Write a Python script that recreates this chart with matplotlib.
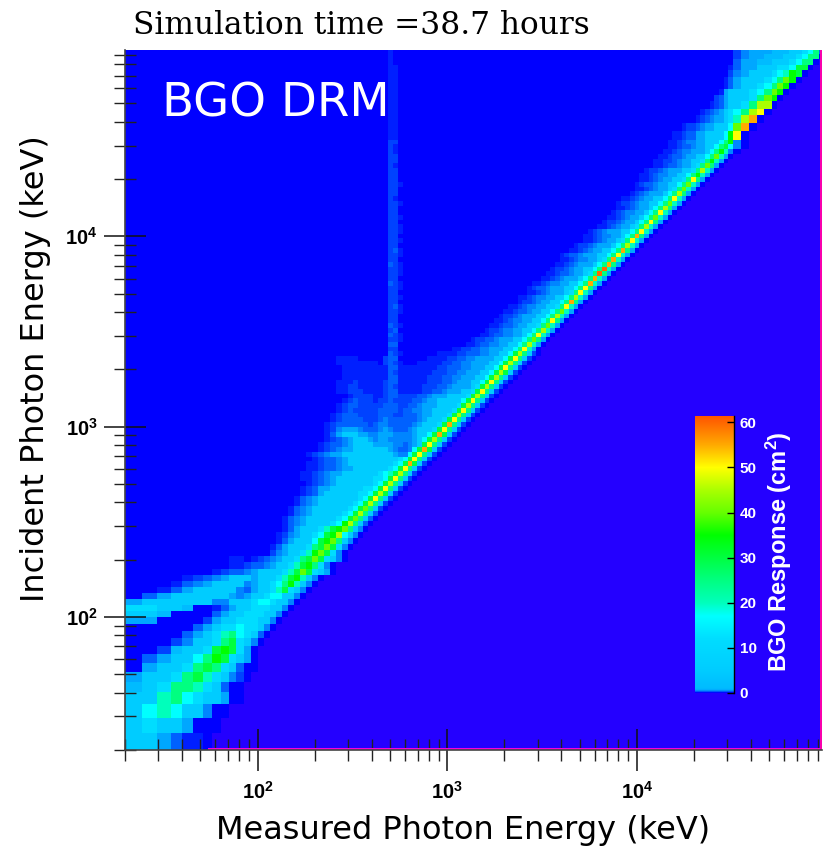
#!/usr/bin/python

#------------------------------------------------------------------------------
# BGO detector response matrix: response per incident / measured energy bin
#------------------------------------------------------------------------------

import matplotlib as mpl
mpl.use('Agg')
from matplotlib import pyplot as plt
from matplotlib.colors import LinearSegmentedColormap
import numpy as np

##############################
# Data
##############################

titleText = "Simulation time =38.7 hours"
panelText = "BGO DRM"
xLabelText = "Measured Photon Energy (keV)"
yLabelText = "Incident Photon Energy (keV)"
barLabelText = r"BGO Response (cm$\mathbf{^{2}}$)"

majorTicks = [100, 1000, 10000]
majorLabels = [r"$\mathbf{10^{2}}$", r"$\mathbf{10^{3}}$", r"$\mathbf{10^{4}}$"]
barTicks = [0, 10, 20, 30, 40, 50, 60]

# energy bins (keV), same for both axes
lowEdges = [20, 24.7, 29.6, 34.8, 40.2, 45.4, 51.3, 57.2, 63.8, 70.3, 77.4, 84.4, 91.8]
topEdges = [32200, 35600, 39200, 43200, 46800, 51400, 55000, 59100, 63700, 68700,
            74500, 79600, 85100, 91200, 95300]

# response levels used in the rows below (cm^2)
levelChars = "abcdefghijklmnopqr"
levelValues = [0.1, 0.2, 0.3, 0.45, 0.6, 1, 5, 12, 17, 20, 25, 30, 35, 40, 45, 50, 55, 60]

# one string per incident bin, bottom row first. The cell after | is the one on
# the diagonal, '.' is an empty bin, nothing right of the string is drawn
rowCells = [
    "|ggecaa.",
    "g|hgge...",
    "gi|jiggd..",
    "ggj|kihgge..",
    "fghk|kjhgc..",
    "egghk|ljhgdb.",
    ".egghk|lkhgc..",
    ".ceggik|mlhge.",
    "..bfgghl|mlhe.",
    "...bdgghk|lhgd.",
    "....ceghjk|ihgc.",       # 10
    ".....ceghhi|hhgd.",
    "ee....begghh|hggd.",
    "ggf....cegghh|hggd.",
    "hhggf..acegghh|hggd.",
    "eggggggddggghii|hggd.",
    ".ceggggggedegghi|iggd.",
    "..acegggggdcegghj|lhgd.",
    "...acdeggggdegghik|mjgd.",
    "....abcdegggeggghjl|mjgd.",
    ".......abccdegggghjl|nlhge.",      # 20
    ".........aabccdegghjl|mkhd.",
    ".........aa.abcdegghkl|nlhgd.",
    "bdegghjm|nlhd.",
    "aceggghkl|nlhd.",
    "acegggilm|nkgd.",
    "abdegghilm|oigd.",
    "aceggghjlm|nkgd.",
    "acdegggghim|okgc.",
    "acdeggggghil|nkgc.",
    "acdeggggghil|okgc.",      # 30
    "acdegggggghil|nkgb.",
    "acdegggggghil|okgb.",
    "acdeggggggghil|pkgb.",
    "abcegggggghhil|olgb.",
    "abceegggggghhil|pkgb.",
    "abcdeggggggghil|okgb.",
    "aabcdeggggggghhil|pkgb.",
    "aabcdeeggggggghijl|okgb.",
    "aabccdeeggggggghil|pkgb.",
    "aabccdeggggggggghil|qlgb.",      # 40
    "abccdegggggggggghil|pkgb.",
    "abcdeeggggggggggeddil|pkgb.",
    "abcdeegggggggedccdil|qlgb.",
    "abccdeggggeeeeddcdegl|pkgb.",
    "abcdegggedeedddddegil|okgb.",
    "acegggeeddeeeddddeggil|qlgb.",
    "abdeeedcccdedcccdeggghl|pkgb.",
    "abccccccbcddcccccdeggghl|qkgb.",
    "abccccbbbcdcbccccdeggghl|pkgb.",
    "abcccbbbbccbbbcccdeeggghl|okgb.",      # 50
    "abcbbbbbccbbbccddeegggghl|pkgb.",
    "abccbbbbbcbbbbccdeeegggghl|okgb.",
    "abcbbbabbbbbbbccdeegggggil|pkgb.",
    "abbbbaabbbbbbbccdeeegggghl|okgb.",
    "aabbbaaaabbaaaaaabbccdeeegghl|pkgb.",
    "aabbaaaaabbaaaaaabbbccdeeeeghl|okgb.",
    "aaabaaaaabbaaaaaaabbbccdeeeggil|pkgb.",
    "aaaaaaaaabbaaaaaabbbccddeeeggil|okgb.",
    "aaaaaaaaabbaaaaaaabbbccddeeeggil|olgb.",
    "aaaaaaaaabbaaaaaaaabbcccddeeeggil|pkgb.",      # 60
    "aaaaaaaa.bb.....aaaaabbccddeeeeggil|okgb.",
    "aaaa.....bb.......aaaabbccddeeeeggil|pkgb.",
    "aaaabbcccddeeggil|okgb.",
    "aabbccddeeeggik|pje.",
    "aabccddeeggik|oje.",
    "abbccdeeeggik|nke.",
    "aabccddeegik|pje.",
    "abbcddeeggik|oje.",
    "aabccdeegghk|nje.",
    "aabcddeeggik|pke.",      # 70
    "abbcdeeeggik|oje.",
    "aabccdeeggik|nje.",
    "aabcddeegghk|pje.",
    "abbcdeeggik|qke.",
    "aabcddeeggik|oje.",
    "aabcdeeeghk|pje.",
    "abccdeeeggik|pke.",
    "aabcddeeggik|qje.",
    "aabcdeeegik|qje.",
    "aabccdeeghk|rke.",      # 80
    "abbcdeeggik|rje.",
    "aabcdeeegik|qke.",
    "aabcddeeghk|qje.",
    "abccdeeeggik|pje.",
    "aabcdeeggik|qke.",
    "abbcdeeegik|oje.",
    "aabcdeeghk|pje.",
    "aabcddeegik|qke.",
    "abcdeeeggik|pje.",
    "aabcdeeghk|oje.",      # 90
    "abbcdeegik|pke.",
    "aabcdeegik|nje.",
    "abcddeegik|pje.",
    "aabcdeegik|oke.",
    "abbcdeeggik|nje.",
    "aabcdeeggik|pje.",
    "abcdeeegik|oke.",
    "aabcdeeghk|nje.",
    "abccdeeggik|nje.",
    "aabcdeegghk|pke.",      # 100
    "aabcddeeggik|mje.",
    "abbcdeeegghk|oje.",
    "aabccdeeghk|nke.",
    "aabbcdeegghk|mje.",
    "aabccdeeggik|nje.",
    "aabcddeeegik|mjd.",
    "aabccdeeggik|lid.",
    "aabcddeegggik|md.",
    "aabcceeggggim|p.",
    "abbcdeegggin|q.",      # 110
    "abcdeeghjo|q.",
    "abcdeghiko|p.",
    "abcegghko|o.",
    "bceggghkn|m.",
    "aeggghikn|m.",
    "acegghikn|m.",
    "aceggghikn|m.",
    "bdeggghijm|l.",
    "aceeggghhil|l.",
    "ceeffggghik|k.",      # 120
    "bdeefffgghik|k.",
    "bdeeefffgghik|c",
]

# the 511 keV line, rows 49 to 122, neighbouring measured bins from line511Col
line511Row = 49
line511Col = 36
line511Main = ("cccccccccccc" + "cccbcbcbcb" + "bbbbbbbcbb" + "bcbbbbbbbb" + "bbbbbbbbbb"
               + "bbbbbbbb" + "aaaaaaaaaaaaaa")
line511Next = ("cbccbccbccbc" + "bcbbcbbcbb" + "bbcbbbbbbb" + "bbbbcbbbbb" + "bbbbbabbbb"
               + "bbabbaab" + "aaaaaaaaaaa...")
line511Edge = ("aaaaaaaaaaaa" + "a.a..aa.a." + ".aa.a.aa.a" + "aa.aa.a.aa" + ".a..a...a."
               + "........" + "..............")

# colour scale, response (cm^2) against colour
scaleValues = [0, 0.1, 0.2, 0.3, 0.45, 0.6, 1, 5, 12, 17, 20, 25, 30, 35, 40, 45, 50, 55, 60, 61.5]
scaleColors = ["#0000ff", "#0022ff", "#0044ff", "#0066ff", "#0088ff", "#00aaff", "#00bbff", "#00ccff",
               "#00ddff", "#00ffff", "#00ffbb", "#00ff80", "#00ff40", "#00ff00", "#66ff00", "#aaff00",
               "#ffff00", "#ffaa00", "#ff6600", "#ff5500"]

##############################
# Build the matrix
##############################

edges = np.concatenate([lowEdges,
                         np.geomspace(100, 300, 16)[:-1],
                         np.geomspace(300, 1000, 21)[:-1],
                         np.geomspace(1000, 32200, 62)[:-1],
                         topEdges])
nBins = len(edges) - 1
assert len(rowCells) == nBins, (len(rowCells), nBins)

levelOf = dict(zip(levelChars, levelValues))
levelOf['.'] = 0.0

response = np.full((nBins, nBins), np.nan)
for row, cells in enumerate(rowCells):
    left, right = cells.split('|')
    left = left[-row:] if row > 0 else ""
    response[row, :row] = 0.0
    for i, c in enumerate(left):
        response[row, row - len(left) + i] = levelOf[c]
    for i, c in enumerate(right):
        if row + i < nBins:
            response[row, row + i] = levelOf[c]

for offset, lineCells in enumerate((line511Main, line511Next, line511Edge)):
    for i, c in enumerate(lineCells):
        r = line511Row + i
        response[r, line511Col + offset] = max(response[r, line511Col + offset], levelOf[c])

##############################
# Plot
##############################

plt.rcParams['mathtext.fontset'] = 'custom'
plt.rcParams['mathtext.rm'] = 'Liberation Sans'
plt.rcParams['mathtext.bf'] = 'Liberation Sans:bold'

figW, figH = 829, 849
fig = plt.figure(figsize=(figW / 100.0, figH / 100.0), dpi=100)


def pxBox(x0, y0, x1, y1):
    """pixel box from the top left corner of the picture to figure fractions"""
    return [x0 / figW, 1 - y1 / figH, (x1 - x0) / figW, (y1 - y0) / figH]


ax = fig.add_axes(pxBox(125, 50, 822.5, 750))
ax.set_facecolor('#2400ff')

vMax = scaleValues[-1]
responseCmap = LinearSegmentedColormap.from_list(
    'drm', [(v / vMax, c) for v, c in zip(scaleValues, scaleColors)], N=4096)
mesh = ax.pcolormesh(edges, edges, np.ma.masked_invalid(response), cmap=responseCmap,
                     vmin=0, vmax=vMax, shading='flat', antialiased=False, linewidth=0)

ax.set_xscale('log')
ax.set_yscale('log')
ax.set_xlim(edges[0], edges[-1])
ax.set_ylim(edges[0], edges[-1])

minorTicks = [m * 10 ** p for p in (1, 2, 3, 4) for m in range(2, 10)]
minorTicks = [t for t in minorTicks if edges[0] <= t <= edges[-1]]

for axis in (ax.xaxis, ax.yaxis):
    axis.set_ticks(majorTicks)
    axis.set_ticklabels(majorLabels)
    axis.set_ticks(minorTicks, minor=True)
    axis.set_ticklabels([], minor=True)

ax.tick_params(which='major', direction='inout', length=30.5, width=1.1, color='#111111',
               labelsize=14.5, pad=7)
ax.tick_params(which='minor', direction='inout', length=16.5, width=1.0, color='#222222')
ax.tick_params(axis='y', which='major', pad=4.5)

for side in ('top', 'right'):
    ax.spines[side].set_visible(False)
for side in ('left', 'bottom'):
    ax.spines[side].set_color('#444444')
    ax.spines[side].set_linewidth(1.2)

# magenta edge of the response area
ax.plot([55, edges[-1]], [0.002, 0.002], transform=ax.get_xaxis_transform(), color='#ff00dd', lw=1.4,
        clip_on=False, solid_capstyle='butt')
ax.plot([0.998, 0.998], [0, 1], transform=ax.transAxes, color='#ff00aa', lw=1.4,
        clip_on=False, solid_capstyle='butt')

# colour bar inside the plot
cax = fig.add_axes(pxBox(695, 415.7, 734, 692.7))
bar = fig.colorbar(mesh, cax=cax, ticks=barTicks)
bar.outline.set_visible(False)
cax.spines['right'].set_visible(True)
cax.spines['right'].set_color('black')
cax.spines['right'].set_linewidth(1.0)
cax.tick_params(axis='y', direction='in', length=5, width=1.0, color='black', labelcolor='white',
                labelsize=11, pad=4)
for lab in cax.get_yticklabels():
    lab.set_fontfamily('Liberation Sans')
    lab.set_fontweight('bold')

fig.text(779 / figW, 1 - 552 / figH, barLabelText, color='white', rotation=90, ha='center', va='center',
         fontsize=17, fontweight='bold', family='Liberation Sans')

fig.text(361 / figW, 1 - 26 / figH, titleText, family='DejaVu Serif', fontsize=22.5, ha='center', va='center')
fig.text(162 / figW, 1 - 104 / figH, panelText, color='white', fontsize=33.6, ha='left', va='center')
fig.text(463 / figW, 1 - 831 / figH, xLabelText, fontsize=23, ha='center', va='center')
fig.text(36 / figW, 1 - 369 / figH, yLabelText, fontsize=23, ha='center', va='center', rotation=90)

fig.savefig('out.png', dpi=100)
